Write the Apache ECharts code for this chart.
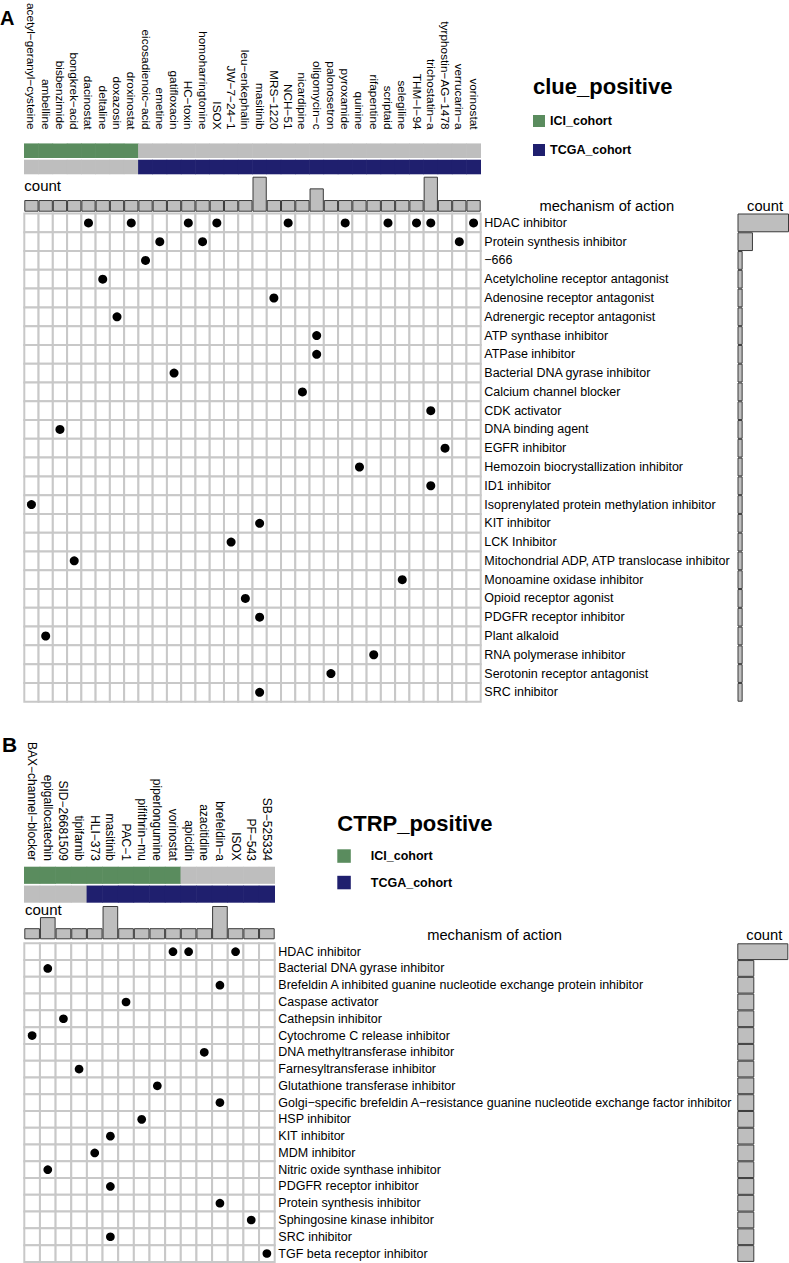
<!DOCTYPE html>
<html>
<head>
<meta charset="utf-8">
<script src="https://cdn.jsdelivr.net/npm/echarts@6/dist/echarts.min.js"></script>
<style>
html,body{margin:0;padding:0;background:#fff;}
#chart{width:789px;height:1263px;}
</style>
</head>
<body>
<div id="chart"></div>
<script>
// ---------- Panel A data ----------
const aDrugs = ['acetyl−geranyl−cysteine','ambelline','bisbenzimide','bongkrek−acid','dacinostat','deltaline','doxazosin','droxinostat','eicosadienoic−acid','emetine','gatifloxacin','HC−toxin','homoharringtonine','ISOX','JW−7−24−1','leu−enkephalin','masitinib','MRS−1220','NCH−51','nicardipine','oligomycin−c','palonosetron','pyroxamide','quinine','rifapentine','scriptaid','selegiline','THM−I−94','trichostatin−a','tyrphostin−AG−1478','verrucarin−a','vorinostat'];
const aMoa = ['HDAC inhibitor','Protein synthesis inhibitor','−666','Acetylcholine receptor antagonist','Adenosine receptor antagonist','Adrenergic receptor antagonist','ATP synthase inhibitor','ATPase inhibitor','Bacterial DNA gyrase inhibitor','Calcium channel blocker','CDK activator','DNA binding agent','EGFR inhibitor','Hemozoin biocrystallization inhibitor','ID1 inhibitor','Isoprenylated protein methylation inhibitor','KIT inhibitor','LCK Inhibitor','Mitochondrial ADP, ATP translocase inhibitor','Monoamine oxidase inhibitor','Opioid receptor agonist','PDGFR receptor inhibitor','Plant alkaloid','RNA polymerase inhibitor','Serotonin receptor antagonist','SRC inhibitor'];
const aHits = [
  ['dacinostat','HDAC inhibitor'],['droxinostat','HDAC inhibitor'],['HC−toxin','HDAC inhibitor'],['ISOX','HDAC inhibitor'],['NCH−51','HDAC inhibitor'],['pyroxamide','HDAC inhibitor'],['scriptaid','HDAC inhibitor'],['THM−I−94','HDAC inhibitor'],['trichostatin−a','HDAC inhibitor'],['vorinostat','HDAC inhibitor'],
  ['emetine','Protein synthesis inhibitor'],['homoharringtonine','Protein synthesis inhibitor'],['verrucarin−a','Protein synthesis inhibitor'],
  ['eicosadienoic−acid','−666'],['deltaline','Acetylcholine receptor antagonist'],['MRS−1220','Adenosine receptor antagonist'],['doxazosin','Adrenergic receptor antagonist'],
  ['oligomycin−c','ATP synthase inhibitor'],['oligomycin−c','ATPase inhibitor'],['gatifloxacin','Bacterial DNA gyrase inhibitor'],['nicardipine','Calcium channel blocker'],
  ['trichostatin−a','CDK activator'],['bisbenzimide','DNA binding agent'],['tyrphostin−AG−1478','EGFR inhibitor'],['quinine','Hemozoin biocrystallization inhibitor'],
  ['trichostatin−a','ID1 inhibitor'],['acetyl−geranyl−cysteine','Isoprenylated protein methylation inhibitor'],['masitinib','KIT inhibitor'],['JW−7−24−1','LCK Inhibitor'],
  ['bongkrek−acid','Mitochondrial ADP, ATP translocase inhibitor'],['selegiline','Monoamine oxidase inhibitor'],['leu−enkephalin','Opioid receptor agonist'],
  ['masitinib','PDGFR receptor inhibitor'],['ambelline','Plant alkaloid'],['rifapentine','RNA polymerase inhibitor'],['palonosetron','Serotonin receptor antagonist'],['masitinib','SRC inhibitor']
];
const aDrugCount = [1,1,1,1,1,1,1,1,1,1,1,1,1,1,1,1,3,1,1,1,2,1,1,1,1,1,1,1,3,1,1,1];
const aMoaCount = [10,3,1,1,1,1,1,1,1,1,1,1,1,1,1,1,1,1,1,1,1,1,1,1,1,1];
const aIci  = [1,1,1,1,1,1,1,1,0,0,0,0,0,0,0,0,0,0,0,0,0,0,0,0,0,0,0,0,0,0,0,0];
const aTcga = [0,0,0,0,0,0,0,0,1,1,1,1,1,1,1,1,1,1,1,1,1,1,1,1,1,1,1,1,1,1,1,1];

// ---------- Panel B data ----------
const bDrugs = ['BAX−channel−blocker','epigallocatechin','SID−26681509','tipifarnib','HLI−373','masitinib','PAC−1','pifithrin−mu','piperlongumine','vorinostat','apicidin','azacitidine','brefeldin−a','ISOX','PF−543','SB−525334'];
const bMoa = ['HDAC inhibitor','Bacterial DNA gyrase inhibitor','Brefeldin A inhibited guanine nucleotide exchange protein inhibitor','Caspase activator','Cathepsin inhibitor','Cytochrome C release inhibitor','DNA methyltransferase inhibitor','Farnesyltransferase inhibitor','Glutathione transferase inhibitor','Golgi−specific brefeldin A−resistance guanine nucleotide exchange factor inhibitor','HSP inhibitor','KIT inhibitor','MDM inhibitor','Nitric oxide synthase inhibitor','PDGFR receptor inhibitor','Protein synthesis inhibitor','Sphingosine kinase inhibitor','SRC inhibitor','TGF beta receptor inhibitor'];
const bHits = [
  ['vorinostat','HDAC inhibitor'],['apicidin','HDAC inhibitor'],['ISOX','HDAC inhibitor'],
  ['epigallocatechin','Bacterial DNA gyrase inhibitor'],['brefeldin−a','Brefeldin A inhibited guanine nucleotide exchange protein inhibitor'],
  ['PAC−1','Caspase activator'],['SID−26681509','Cathepsin inhibitor'],['BAX−channel−blocker','Cytochrome C release inhibitor'],
  ['azacitidine','DNA methyltransferase inhibitor'],['tipifarnib','Farnesyltransferase inhibitor'],['piperlongumine','Glutathione transferase inhibitor'],
  ['brefeldin−a','Golgi−specific brefeldin A−resistance guanine nucleotide exchange factor inhibitor'],['pifithrin−mu','HSP inhibitor'],
  ['masitinib','KIT inhibitor'],['HLI−373','MDM inhibitor'],['epigallocatechin','Nitric oxide synthase inhibitor'],['masitinib','PDGFR receptor inhibitor'],
  ['brefeldin−a','Protein synthesis inhibitor'],['PF−543','Sphingosine kinase inhibitor'],['masitinib','SRC inhibitor'],['SB−525334','TGF beta receptor inhibitor']
];
const bDrugCount = [1,2,1,1,1,3,1,1,1,1,1,1,3,1,1,1];
const bMoaCount = [3,1,1,1,1,1,1,1,1,1,1,1,1,1,1,1,1,1,1];
const bIci  = [1,1,1,1,1,1,1,1,1,1,0,0,0,0,0,0];
const bTcga = [0,0,0,0,1,1,1,1,1,1,1,1,1,1,1,1];

const cohorts = ['ICI_cohort','TCGA_cohort'];

// ---------- styles ----------
const FONT = '"Liberation Sans", Arial, Helvetica, sans-serif';
const GREEN = '#5A8C5E', NAVY = '#1F1F6E', GREY = '#BEBEBE', EDGE = '#3a3a3a';

function cellsFor(nx, ny){ const d=[]; for(let j=0;j<ny;j++) for(let i=0;i<nx;i++) d.push([i,j]); return d; }
function cellRender(params, api){
  const p = api.coord([api.value(0), api.value(1)]);
  const s = api.size([1,1]);
  return {type:'rect', shape:{x:p[0]-s[0]/2, y:p[1]-s[1]/2, width:s[0], height:s[1]},
          style:{fill:'#fff', stroke:'#c8c8c8', lineWidth:2}};
}
function annoRender(color){
  return function(params, api){
    const p = api.coord([api.value(0), api.value(1)]);
    const s = api.size([1,1]);
    return {type:'rect', shape:{x:p[0]-s[0]/2-0.3, y:p[1]-s[1]/2+0.85, width:s[0]+0.6, height:s[1]-1.7},
            style:{fill: api.value(2) ? color : GREY}};
  };
}
function annoData(arr,row){ return arr.map((v,i)=>[i,row,v]); }

// layout per panel
const L = {
  A:{left:24.3, width:456.4, annoTop:135.85, annoH:39.3, cntTop:176.7, cntH:35, heatTop:213.5, heatH:488.2, rLeft:737.5, rW:51.5, rMax:10, labMargin:13, colFont:11.8, dot:9},
  B:{left:24.3, width:250.4, annoTop:865.85, annoH:37.7, cntTop:906, cntH:33.3, heatTop:943.3, heatH:318.6, rLeft:737.3, rW:51, rMax:3, labMargin:5, colFont:12, dot:8.7}
};

const grid=[], xAxis=[], yAxis=[], series=[];
function hiddenCat(data, gi, extra){ return Object.assign({type:'category', data:data, gridIndex:gi, axisLine:{show:false}, axisTick:{show:false}, axisLabel:{show:false}, splitLine:{show:false}}, extra||{}); }
function hiddenVal(gi, max){ return {type:'value', gridIndex:gi, min:0, max:max, axisLine:{show:false}, axisTick:{show:false}, axisLabel:{show:false}, splitLine:{show:false}}; }

function buildPanel(key, drugs, moa, hits, drugCount, moaCount, ici, tcga){
  const c = L[key];
  const g0 = grid.length;
  grid.push({left:c.left, top:c.annoTop, width:c.width, height:c.annoH});
  grid.push({left:c.left, top:c.cntTop, width:c.width, height:c.cntH});
  grid.push({left:c.left, top:c.heatTop, width:c.width, height:c.heatH});
  grid.push({left:c.rLeft, top:c.heatTop, width:c.rW, height:c.heatH});
  const x0 = xAxis.length, y0 = yAxis.length;
  xAxis.push(hiddenCat(drugs, g0, {position:'top', axisLabel:{show:true, rotate:90, interval:0, margin:c.labMargin, fontSize:c.colFont, color:'#000', fontFamily:FONT}}));
  yAxis.push(hiddenCat(cohorts, g0, {inverse:true}));
  xAxis.push(hiddenCat(drugs, g0+1));
  yAxis.push(hiddenVal(g0+1, 3));
  xAxis.push(hiddenCat(drugs, g0+2));
  yAxis.push(hiddenCat(moa, g0+2, {inverse:true, position:'right', axisLabel:{show:true, interval:0, margin:3.6, fontSize:12.5, color:'#000', fontFamily:FONT}}));
  xAxis.push(hiddenVal(g0+3, c.rMax));
  yAxis.push(hiddenCat(moa, g0+3, {inverse:true}));

  series.push({name:'ICI_cohort', type:'custom', xAxisIndex:x0, yAxisIndex:y0, itemStyle:{color:GREEN}, renderItem:annoRender(GREEN), data:annoData(ici,0), silent:true});
  series.push({name:'TCGA_cohort', type:'custom', xAxisIndex:x0, yAxisIndex:y0, itemStyle:{color:NAVY}, renderItem:annoRender(NAVY), data:annoData(tcga,1), silent:true});
  series.push({type:'bar', xAxisIndex:x0+1, yAxisIndex:y0+1, data:drugCount, barWidth:'100%', barGap:'0%', barCategoryGap:'0%', itemStyle:{color:GREY, borderColor:EDGE, borderWidth:1}, silent:true});
  series.push({type:'custom', xAxisIndex:x0+2, yAxisIndex:y0+2, renderItem:cellRender, data:cellsFor(drugs.length, moa.length), silent:true});
  series.push({type:'scatter', xAxisIndex:x0+2, yAxisIndex:y0+2, data:hits, symbol:'circle', symbolSize:c.dot, itemStyle:{color:'#000', opacity:1}, silent:true, z:5});
  series.push({type:'bar', xAxisIndex:x0+3, yAxisIndex:y0+3, data:moaCount, barWidth:'100%', barGap:'0%', barCategoryGap:'0%', itemStyle:{color:GREY, borderColor:EDGE, borderWidth:1}, silent:true});
}
buildPanel('A', aDrugs, aMoa, aHits, aDrugCount, aMoaCount, aIci, aTcga);
buildPanel('B', bDrugs, bMoa, bHits, bDrugCount, bMoaCount, bIci, bTcga);

function txt(text, x, y, size, opts){
  return {type:'text', x:x, y:y, silent:true, style:Object.assign({text:text, fill:'#000', font:(opts&&opts.bold?'bold ':'')+size+'px '+FONT, textAlign:'left', textVerticalAlign:'middle'}, opts&&opts.style)};
}

const option = {
  animation:false,
  backgroundColor:'#fff',
  textStyle:{fontFamily:FONT},
  grid:grid, xAxis:xAxis, yAxis:yAxis, series:series,
  legend:[
    {data:cohorts, orient:'vertical', left:533, top:114.5, icon:'rect', itemWidth:12, itemHeight:12, itemGap:16, padding:0, selectedMode:false,
     textStyle:{fontWeight:'bold', fontSize:12.5, color:'#000', fontFamily:FONT}},
    {data:cohorts, orient:'vertical', left:337.3, top:849.3, icon:'rect', itemWidth:13.5, itemHeight:13.5, itemGap:13, padding:0, selectedMode:false,
     textStyle:{fontWeight:'bold', fontSize:12.5, color:'#000', fontFamily:FONT, padding:[0,0,0,15]}}
  ],
  graphic:[
    txt('A', 0, 18, 20, {bold:true}),
    txt('clue_positive', 533, 86.7, 22, {bold:true}),
    txt('count', 24.3, 185, 15),
    txt('mechanism of action', 606.8, 206, 14.7, {style:{textAlign:'center'}}),
    txt('count', 765, 206, 14.7, {style:{textAlign:'center'}}),
    txt('B', 2, 744, 21, {bold:true}),
    txt('CTRP_positive', 337.3, 823.3, 22, {bold:true}),
    txt('count', 25, 909, 15),
    txt('mechanism of action', 494.5, 935, 14.7, {style:{textAlign:'center'}}),
    txt('count', 764.3, 935, 14.7, {style:{textAlign:'center'}})
  ]
};
const chart = echarts.init(document.getElementById('chart'), null, {renderer:'svg', width:789, height:1263});
chart.setOption(option);
</script>
</body>
</html>
